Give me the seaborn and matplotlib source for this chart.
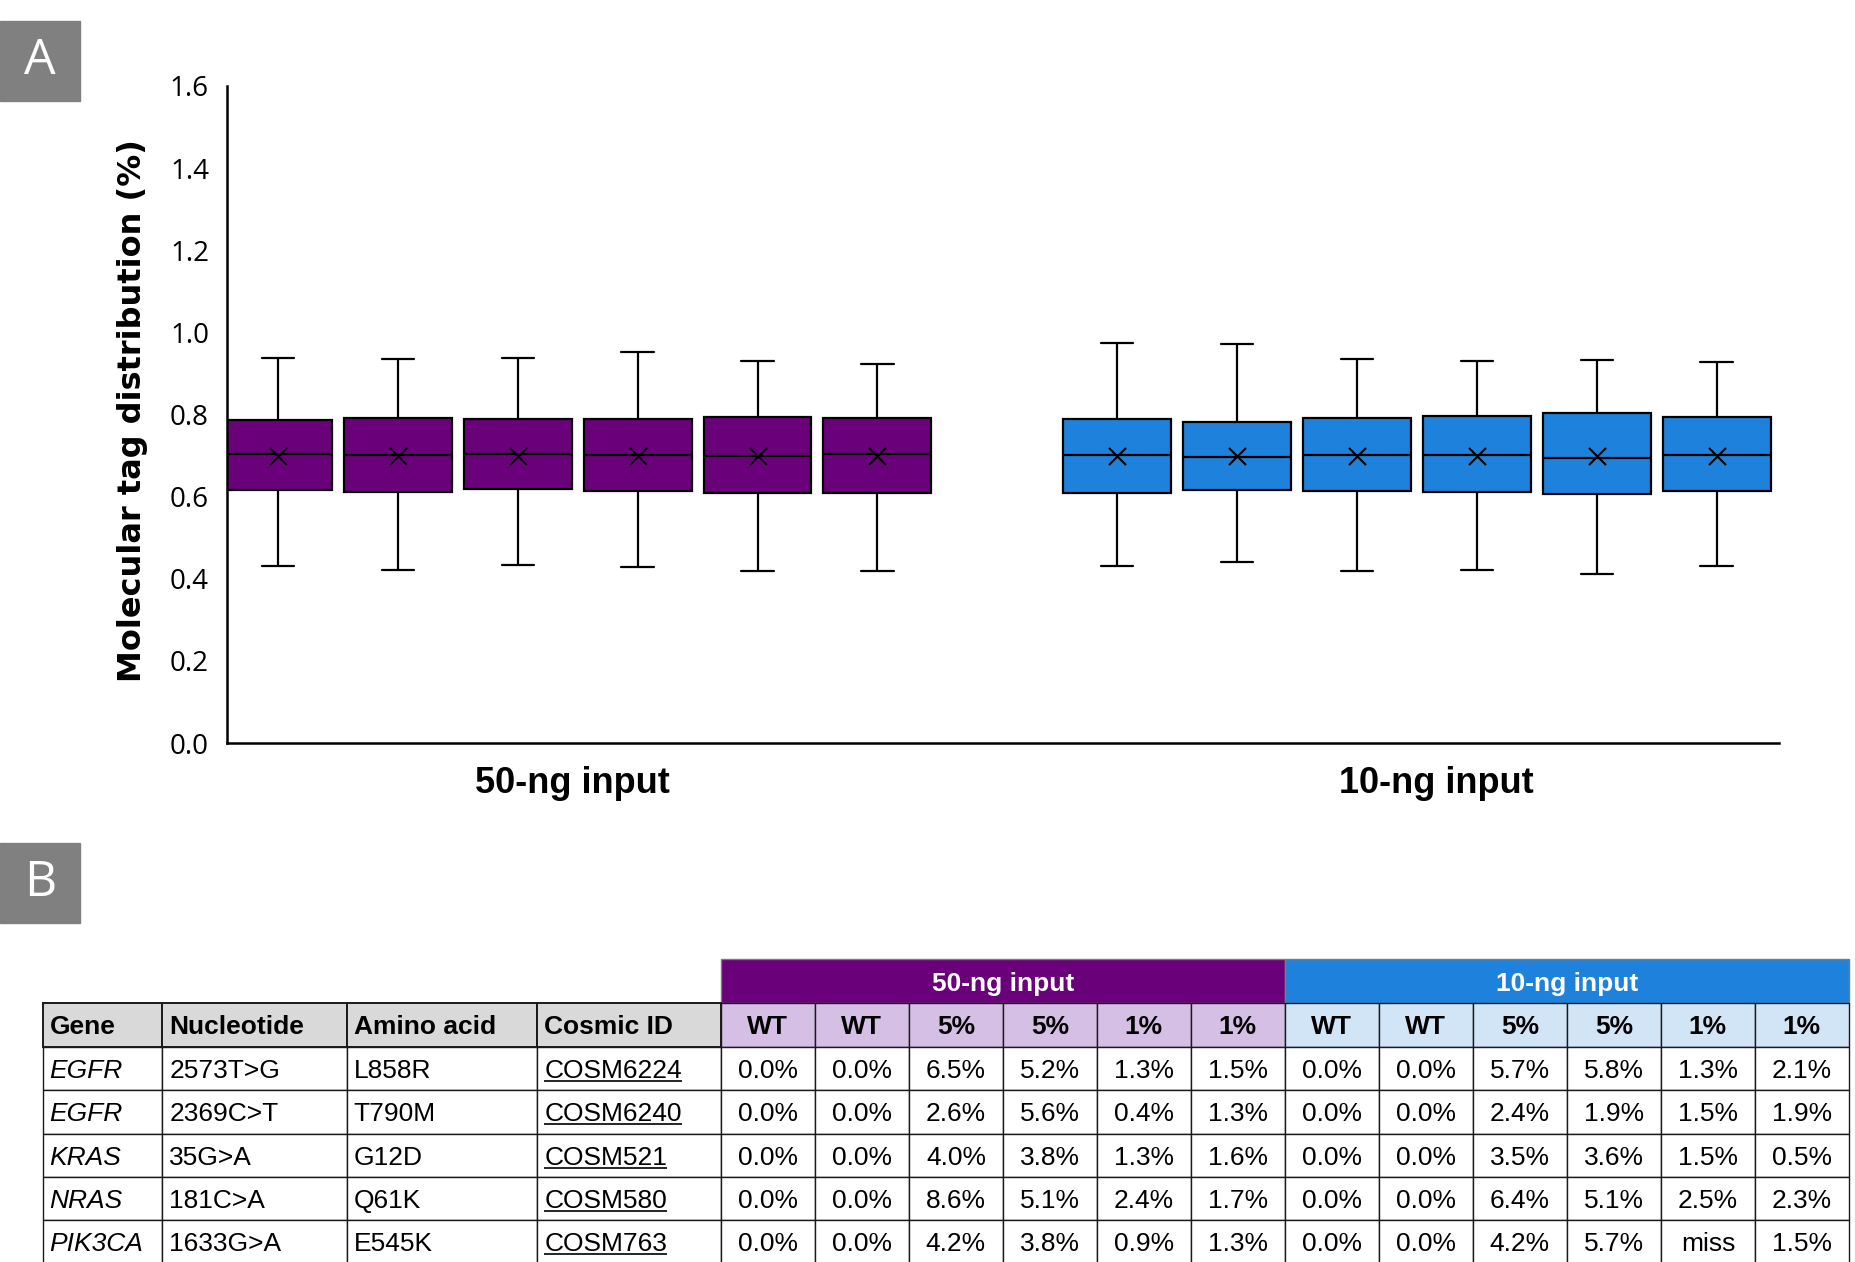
import numpy as np
import pandas as pd
import matplotlib
matplotlib.use("Agg")
import matplotlib.pyplot as plt
from matplotlib.patches import Rectangle
import seaborn as sns

# ---------------- Panel A: molecular tag distribution per library ----------------
lib_pos = [0, 1, 2, 3, 4, 5, 7, 8, 9, 10, 11, 12]
lib_input = ["50-ng"] * 6 + ["10-ng"] * 6
whisker_low = [0.430, 0.422, 0.433, 0.428, 0.420, 0.418,
               0.431, 0.440, 0.420, 0.422, 0.411, 0.431]
q1 = [0.615, 0.611, 0.619, 0.613, 0.608, 0.610,
      0.609, 0.617, 0.614, 0.612, 0.607, 0.613]
median = [0.705, 0.702, 0.705, 0.701, 0.700, 0.703,
          0.701, 0.696, 0.702, 0.702, 0.693, 0.702]
q3 = [0.786, 0.792, 0.790, 0.788, 0.794, 0.792,
      0.790, 0.782, 0.792, 0.796, 0.803, 0.794]
whisker_high = [0.938, 0.934, 0.937, 0.952, 0.931, 0.922,
                0.973, 0.972, 0.936, 0.930, 0.932, 0.929]
mean = [0.698, 0.698, 0.699, 0.698, 0.698, 0.698,
        0.698, 0.698, 0.698, 0.698, 0.698, 0.698]
group_labels = ["50-ng input", "10-ng input"]
group_centers = [2.46, 9.66]
y_ticks = [0.0, 0.2, 0.4, 0.6, 0.8, 1.0, 1.2, 1.4, 1.6]

# ---------------- Panel B: variant allele frequencies ----------------
genes = ["EGFR", "EGFR", "KRAS", "NRAS", "PIK3CA"]
nucleotides = ["2573T>G", "2369C>T", "35G>A", "181C>A", "1633G>A"]
amino_acids = ["L858R", "T790M", "G12D", "Q61K", "E545K"]
cosmic_ids = ["COSM6224", "COSM6240", "COSM521", "COSM580", "COSM763"]
info_headers = ["Gene", "Nucleotide", "Amino acid", "Cosmic ID"]
sample_levels = ["WT", "WT", "5%", "5%", "1%", "1%"]
vaf_50ng = [
    [0.0, 0.0, 6.5, 5.2, 1.3, 1.5],
    [0.0, 0.0, 2.6, 5.6, 0.4, 1.3],
    [0.0, 0.0, 4.0, 3.8, 1.3, 1.6],
    [0.0, 0.0, 8.6, 5.1, 2.4, 1.7],
    [0.0, 0.0, 4.2, 3.8, 0.9, 1.3],
]
vaf_10ng = [
    [0.0, 0.0, 5.7, 5.8, 1.3, 2.1],
    [0.0, 0.0, 2.4, 1.9, 1.5, 1.9],
    [0.0, 0.0, 3.5, 3.6, 1.5, 0.5],
    [0.0, 0.0, 6.4, 5.1, 2.5, 2.3],
    [0.0, 0.0, 4.2, 5.7, None, 1.5],
]

PURPLE = "#6B007B"
BLUE = "#1E82DC"
LIGHT_PURPLE = "#D5BFE4"
LIGHT_BLUE = "#D2E5F7"
HEAD_GRAY = "#D9D9D9"
PANEL_GRAY = "#808080"

sns.set_style("white")
CHART_FONT = ["Open Sans", "DejaVu Sans"]
ARIAL_LIKE = ["Liberation Sans", "DejaVu Sans"]
TABLE_FONT = ["Liberation Sans Narrow", "Liberation Sans", "DejaVu Sans"]
plt.rcParams["font.family"] = CHART_FONT
for key in ("text.color", "axes.labelcolor", "xtick.color", "ytick.color"):
    plt.rcParams[key] = "black"

W, H = 1856, 1262
fig = plt.figure(figsize=(W / 100, H / 100), dpi=100)


def fx(px):
    return px / W


def fy(py):
    return 1 - py / H


# panel letters
for letter, top in (("A", 21), ("B", 843)):
    fig.patches.append(Rectangle((0, fy(top + 80)), fx(80), 80 / H,
                                 transform=fig.transFigure, color=PANEL_GRAY))
    fig.text(fx(40), fy(top + 40), letter, color="white", fontsize=36,
             ha="center", va="center", family=CHART_FONT)

# ---------------- box plot ----------------
rows = []
for pos, grp, lo, a, m, b, hi in zip(lib_pos, lib_input, whisker_low, q1,
                                     median, q3, whisker_high):
    for v in (lo, a, m, b, hi):
        rows.append({"pos": pos, "input": grp, "value": v})
df = pd.DataFrame(rows)

AX_TOP, AX_BOTTOM = 86, 743
ax = fig.add_axes([fx(227), fy(AX_BOTTOM), (1779 - 227) / W,
                   (AX_BOTTOM - AX_TOP) / H])
sns.boxplot(data=df, x="pos", y="value", hue="input",
            palette={"50-ng": PURPLE, "10-ng": BLUE}, saturation=1,
            native_scale=True, dodge=False, width=0.9, whis=(0, 100),
            showfliers=False, linecolor="black", linewidth=1.6,
            capwidths=0.27, legend=False, ax=ax)
sns.scatterplot(x=lib_pos, y=mean, marker="x", color="black", s=150,
                linewidth=1.5, ax=ax, zorder=5, legend=False)

ax.set_xlim(-0.425, 12.52)
ax.set_ylim(0, 1.6)
ax.set_yticks(y_ticks)
ax.set_yticklabels([f"{v:.1f}" for v in y_ticks], fontsize=20,
                   family=CHART_FONT)
ax.set_xticks([])
ax.tick_params(axis="y", length=0, pad=13)
ax.set_xlabel("")
ax.set_ylabel("")
for side in ("top", "right"):
    ax.spines[side].set_visible(False)
for side in ("left", "bottom"):
    ax.spines[side].set_color("black")
    ax.spines[side].set_linewidth(1.8)

# group names under the axis
label_y = (AX_BOTTOM - 793) / (AX_BOTTOM - AX_TOP)
for xc, name in zip(group_centers, group_labels):
    ax.text(xc, label_y, name, transform=ax.get_xaxis_transform(),
            ha="center", va="baseline", fontsize=26, fontweight="bold",
            family=ARIAL_LIKE, clip_on=False)

fig.text(fx(133), fy(411), "Molecular tag distribution (%)", rotation=90,
         ha="center", va="center", fontsize=23, fontweight="bold",
         family=["DejaVu Sans"])

# ---------------- table ----------------
col_w = [119.6, 184.6, 190.6, 183.5] + [94.0] * 12
row_h = [44.3] + [43.4] * 6
tx0, ty0 = 42.6, 959
tw, th = sum(col_w), sum(row_h)
x_edges = np.concatenate([[0], np.cumsum(col_w)])
y_edges = np.concatenate([[0], np.cumsum(row_h)])

axt = fig.add_axes([fx(tx0), fy(ty0 + th), tw / W, th / H])
axt.set_xlim(0, tw)
axt.set_ylim(th, 0)
axt.axis("off")

FS = 19
cap = 0.716 * FS * 100 / 72
LINE = "#1a1a1a"


def cell(ci, ri, face, span=1, edge=LINE, lw=1.0):
    x0 = x_edges[ci]
    w = x_edges[ci + span] - x0
    axt.add_patch(Rectangle((x0, y_edges[ri]), w, row_h[ri], facecolor=face,
                            edgecolor=edge, linewidth=lw, clip_on=False))


def put(ci, ri, s, align="center", span=1, **kw):
    yb = y_edges[ri] + row_h[ri] / 2 + cap / 2
    if align == "left":
        x = x_edges[ci] + 7
    else:
        x = (x_edges[ci] + x_edges[ci + span]) / 2
    return axt.text(x, yb, s, ha=align, va="baseline", fontsize=FS,
                    family=TABLE_FONT, clip_on=False, **kw)


# group header row
cell(4, 0, PURPLE, span=6, edge="#7a7a7a")
cell(10, 0, BLUE, span=6, edge="#7a7a7a")
put(4, 0, group_labels[0], span=6, color="white", fontweight="bold")
put(10, 0, group_labels[1], span=6, color="white", fontweight="bold")

# column header row
for ci, name in enumerate(info_headers):
    cell(ci, 1, HEAD_GRAY, lw=1.4)
    put(ci, 1, name, align="left", fontweight="bold")
for k, lvl in enumerate(sample_levels + sample_levels):
    cell(4 + k, 1, LIGHT_PURPLE if k < 6 else LIGHT_BLUE)
    put(4 + k, 1, lvl, fontweight="bold")

# body rows
cosmic_texts = []
for r in range(len(genes)):
    ri = r + 2
    for ci in range(16):
        cell(ci, ri, "white")
    put(0, ri, genes[r], align="left", fontstyle="italic")
    put(1, ri, nucleotides[r], align="left")
    put(2, ri, amino_acids[r], align="left")
    cosmic_texts.append((ri, put(3, ri, cosmic_ids[r], align="left")))
    for k, v in enumerate(vaf_50ng[r] + vaf_10ng[r]):
        put(4 + k, ri, "miss" if v is None else f"{v:.1f}%")

# underline the COSMIC identifiers
fig.canvas.draw()
renderer = fig.canvas.get_renderer()
inv = axt.transData.inverted()
for ri, t in cosmic_texts:
    bb = t.get_window_extent(renderer)
    (x_a, _), (x_b, _) = inv.transform([[bb.x0, bb.y0], [bb.x1, bb.y0]])
    yb = y_edges[ri] + row_h[ri] / 2 + cap / 2 + 3
    axt.plot([x_a, x_b], [yb, yb], color="black", lw=1.2, clip_on=False,
             solid_capstyle="butt")

fig.savefig("out.png", dpi=100)
